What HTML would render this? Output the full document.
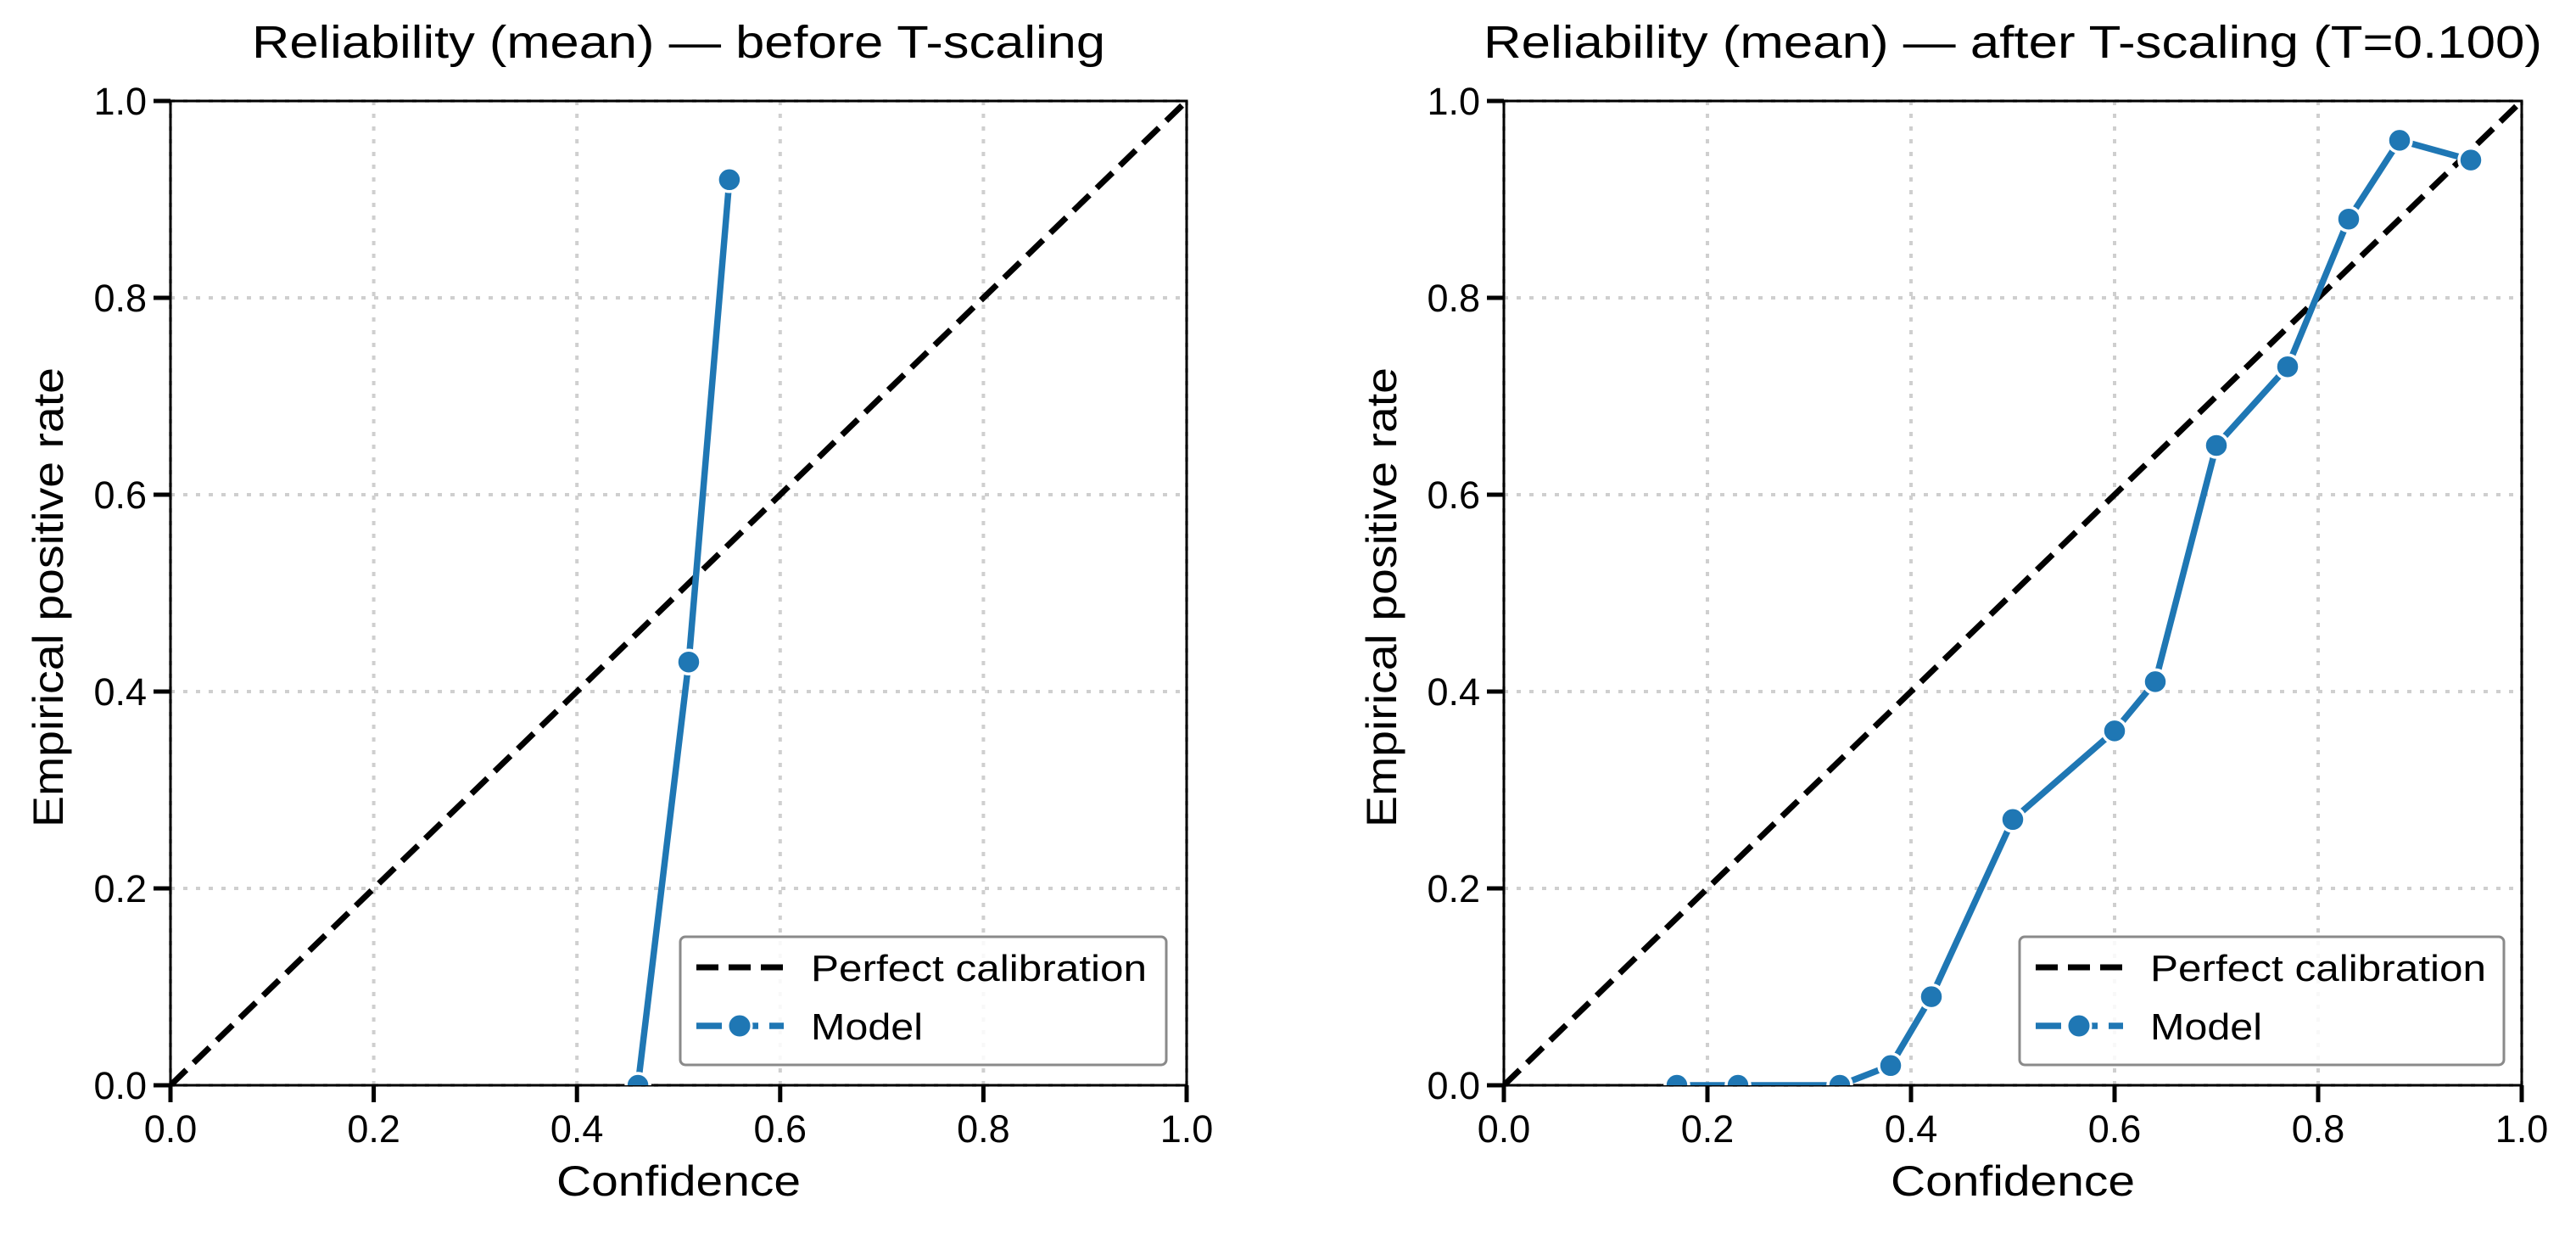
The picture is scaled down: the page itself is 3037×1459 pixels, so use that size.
<!DOCTYPE html>
<html><head><meta charset="utf-8"><style>
html,body{margin:0;padding:0;background:#fff;}
svg{display:block;font-family:"Liberation Sans",sans-serif;}
</style></head><body>
<svg id="chart" width="3037" height="1459" viewBox="0 0 3037 1459" xmlns="http://www.w3.org/2000/svg">
<defs>
<clipPath id="clipL"><rect x="201" y="119" width="1198" height="1160"/></clipPath>
<clipPath id="clipR"><rect x="1773" y="119" width="1200" height="1160"/></clipPath>
</defs>
<g id="panels"></g>
</svg>
<script>
const ticks = [0, 0.2, 0.4, 0.6, 0.8, 1.0];
const tickLabels = ["0.0", "0.2", "0.4", "0.6", "0.8", "1.0"];
const beforeConf = [0.46, 0.51, 0.55];
const beforeRate = [0.00, 0.43, 0.92];
const afterConf = [0.17, 0.23, 0.33, 0.38, 0.42, 0.50, 0.60, 0.64, 0.70, 0.77, 0.83, 0.88, 0.95];
const afterRate = [0.00, 0.00, 0.00, 0.02, 0.09, 0.27, 0.36, 0.41, 0.65, 0.73, 0.88, 0.96, 0.94];
const titles = ["Reliability (mean) \u2014 before T-scaling", "Reliability (mean) \u2014 after T-scaling (T=0.100)"];

const NS = "http://www.w3.org/2000/svg";
const root = document.getElementById("panels");
function mk(tag, attrs, parent, text) {
  const e = document.createElementNS(NS, tag);
  for (const k in attrs) e.setAttribute(k, attrs[k]);
  if (text !== undefined) e.textContent = text;
  (parent || root).appendChild(e);
  return e;
}
const panelDefs = [
  {x0: 201, x1: 1399, y0: 1279, y1: 119, clip: "clipL", conf: beforeConf, rate: beforeRate, title: titles[0], titleW: 1006, ylabX: 57, leg: {x: 802, y: 1104, w: 573, h: 151}},
  {x0: 1773, x1: 2973, y0: 1279, y1: 119, clip: "clipR", conf: afterConf, rate: afterRate, title: titles[1], titleW: 1248, ylabX: 1629, leg: {x: 2381, y: 1104, w: 571, h: 151}}
];
panelDefs.forEach((p, pi) => {
  const g = mk("g", {});
  
  
  const sx = v => p.x0 + v * (p.x1 - p.x0);
  const sy = v => p.y0 + v * (p.y1 - p.y0);
  // grid
  ticks.forEach((t, i) => {
    const gv = mk("line", {x1: sx(t), x2: sx(t), y1: p.y0, y2: p.y1, stroke: "#cfcfcf", "stroke-width": 4, "stroke-dasharray": "5 10"}, g);
    
    
    const gh = mk("line", {x1: p.x0, x2: p.x1, y1: sy(t), y2: sy(t), stroke: "#cfcfcf", "stroke-width": 4, "stroke-dasharray": "5 10"}, g);
    
    
  });
  // spines
  const sp = mk("rect", {x: p.x0, y: p.y1, width: p.x1 - p.x0, height: p.y0 - p.y1, fill: "none", stroke: "#000", "stroke-width": 3}, g);
  
  
  // ticks
  ticks.forEach((t, i) => {
    mk("line", {x1: sx(t), x2: sx(t), y1: p.y0, y2: p.y0 + 20, stroke: "#000", "stroke-width": 5}, g);
    mk("line", {x1: p.x0 - 20, x2: p.x0, y1: sy(t), y2: sy(t), stroke: "#000", "stroke-width": 5}, g);
    const xl = mk("text", {x: sx(t), y: p.y0 + 67, "font-size": 45, "text-anchor": "middle"}, g, tickLabels[i]);
    
    
    const yl = mk("text", {x: p.x0 - 28, y: sy(t) + 16, "font-size": 45, "text-anchor": "end"}, g, tickLabels[i]);
    
    
  });
  // diagonal
  const dg = mk("line", {x1: sx(0), y1: sy(0), x2: sx(1), y2: sy(1), stroke: "#000", "stroke-width": 7, "stroke-dasharray": "26 12", "clip-path": "url(#" + p.clip + ")"}, g);
  
  
  // model line
  const pts = p.conf.map((c, i) => sx(c) + "," + sy(p.rate[i])).join(" ");
  const ml = mk("polyline", {points: pts, fill: "none", stroke: "#1f77b4", "stroke-width": 7.5, "stroke-linejoin": "round", "clip-path": "url(#" + p.clip + ")"}, g);
  
  
  p.conf.forEach((c, i) => {
    const m = mk("circle", {cx: sx(c), cy: sy(p.rate[i]), r: 14, fill: "#1f77b4", stroke: "#fff", "stroke-width": 3.5, "clip-path": "url(#" + p.clip + ")"}, g);
    
    
  });
  // title & labels
  const tt = mk("text", {x: (p.x0 + p.x1) / 2, y: 68, "font-size": 54, "text-anchor": "middle", textLength: p.titleW, lengthAdjust: "spacingAndGlyphs"}, g, p.title);
  
  
  const xt = mk("text", {x: (p.x0 + p.x1) / 2, y: 1409, "font-size": 50, "text-anchor": "middle", textLength: 288, lengthAdjust: "spacingAndGlyphs"}, g, "Confidence");
  
  
  const yt = mk("text", {x: 0, y: 0, "font-size": 50, "text-anchor": "middle", textLength: 542, lengthAdjust: "spacingAndGlyphs", transform: "translate(" + (p.ylabX + 17) + ",704) rotate(-90)"}, g, "Empirical positive rate");
  
  
  // legend
  const L = p.leg;
  const lg = mk("g", {}, g);
  
  
  mk("rect", {x: L.x, y: L.y, width: L.w, height: L.h, rx: 6, fill: "#fff", "fill-opacity": 0.85, stroke: "#8a8a8a", "stroke-width": 3}, lg);
  mk("line", {x1: L.x + 19, x2: L.x + 122, y1: L.y + 36, y2: L.y + 36, stroke: "#000", "stroke-width": 7, "stroke-dasharray": "26 12"}, lg);
  const t1 = mk("text", {x: L.x + 154, y: L.y + 52, "font-size": 44, textLength: 396, lengthAdjust: "spacingAndGlyphs"}, lg, "Perfect calibration");
  
  
  mk("line", {x1: L.x + 19, x2: L.x + 122, y1: L.y + 105, y2: L.y + 105, stroke: "#1f77b4", "stroke-width": 7.5, "stroke-dasharray": "30 13"}, lg);
  mk("circle", {cx: L.x + 70, cy: L.y + 105, r: 14, fill: "#1f77b4", stroke: "#fff", "stroke-width": 3}, lg);
  const t2 = mk("text", {x: L.x + 154, y: L.y + 121, "font-size": 44, textLength: 132, lengthAdjust: "spacingAndGlyphs"}, lg, "Model");
  
  
});
</script>
</body></html>
